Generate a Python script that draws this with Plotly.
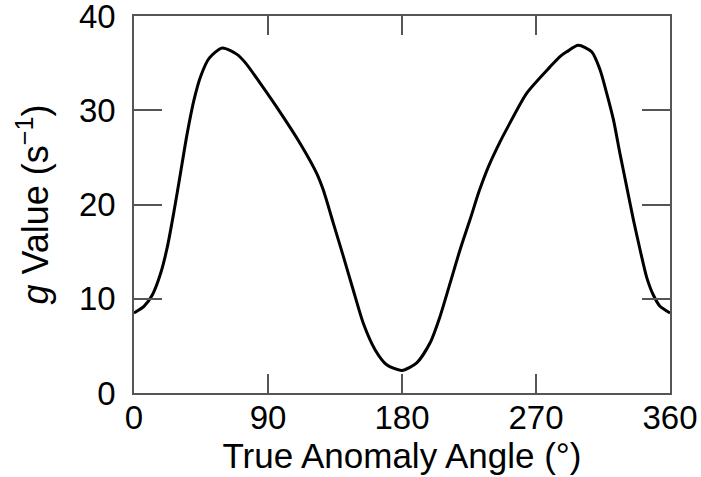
import plotly.graph_objects as go

angle = [0, 6.7, 12.3, 17.9, 22.4, 26.9, 31.3, 35.8, 40.3, 44.8, 50.4, 59.3, 69.4, 75,
         84.6, 98.1, 111.5, 122.7, 127.2, 133.9, 140.6, 147.3, 154, 161.9, 169.7, 179.8,
         189.9, 198.8, 205.5, 212.2, 219, 225.7, 232, 238, 246, 250.3, 263.7, 279.4, 286.1,
         290.6, 298.4, 307.4, 313, 317.5, 322, 326.4, 330.9, 335.4, 339.9, 344.3, 348.8,
         353.3, 360]
g_value = [8.5, 9.2, 10.4, 12.7, 15.5, 19.3, 23.4, 27.6, 31.1, 33.6, 35.5, 36.6, 35.9, 35.0,
           32.9, 29.8, 26.5, 23.3, 21.5, 18.0, 14.5, 10.9, 7.4, 4.6, 3.0, 2.4,
           3.2, 5.3, 8.1, 11.6, 15.2, 18.4, 21.5, 24.0, 26.7, 28.0, 31.8, 34.6, 35.7,
           36.2, 36.9, 36.2, 34.3, 31.8, 29.0, 25.4, 21.9, 18.4, 15.2, 12.3, 10.4,
           9.2, 8.5]

x_ticks = [0, 90, 180, 270, 360]
y_ticks = [0, 10, 20, 30, 40]

FONT = "Liberation Sans, Arial, Helvetica, sans-serif"
AX = "#555555"

fig = go.Figure(go.Scatter(
    x=angle, y=g_value, mode="lines",
    line=dict(color="black", width=3, shape="spline", smoothing=0.7),
    hoverinfo="skip", showlegend=False, cliponaxis=False))

fig.update_layout(
    width=701, height=477,
    margin=dict(l=134, r=31, t=16, b=84, autoexpand=False),
    paper_bgcolor="white", plot_bgcolor="white",
    font=dict(family=FONT, color="black", size=33),
)
fig.update_xaxes(
    range=[0, 360], tickvals=x_ticks, ticktext=[str(v) for v in x_ticks],
    ticks="inside", ticklen=19, tickwidth=1.5, tickcolor=AX,
    showline=True, linecolor=AX, linewidth=1.5, mirror="ticks",
    showgrid=False, zeroline=False, automargin=False,
    ticklabelstandoff=-5, ticklabeloverflow="allow",
    tickfont=dict(size=33, family=FONT, color="black"),
    title=dict(text="True Anomaly Angle (°)", font=dict(size=35, family=FONT, color="black"),
               standoff=0),
)
fig.update_yaxes(
    range=[0, 40], tickvals=y_ticks, ticktext=[str(v) for v in y_ticks],
    ticks="inside", ticklen=28, tickwidth=1.5, tickcolor=AX,
    showline=True, linecolor=AX, linewidth=1.5, mirror="ticks",
    showgrid=False, zeroline=False, automargin=False,
    ticklabelstandoff=10, ticklabeloverflow="allow",
    tickfont=dict(size=33, family=FONT, color="black"),
    title=dict(text="<i>g</i> Value (s<sup>−1</sup>)", font=dict(size=36, family=FONT, color="black"),
               standoff=19),
)

fig.write_html("out.html", config={"displayModeBar": False},
               post_script="document.body.style.margin='0';")
